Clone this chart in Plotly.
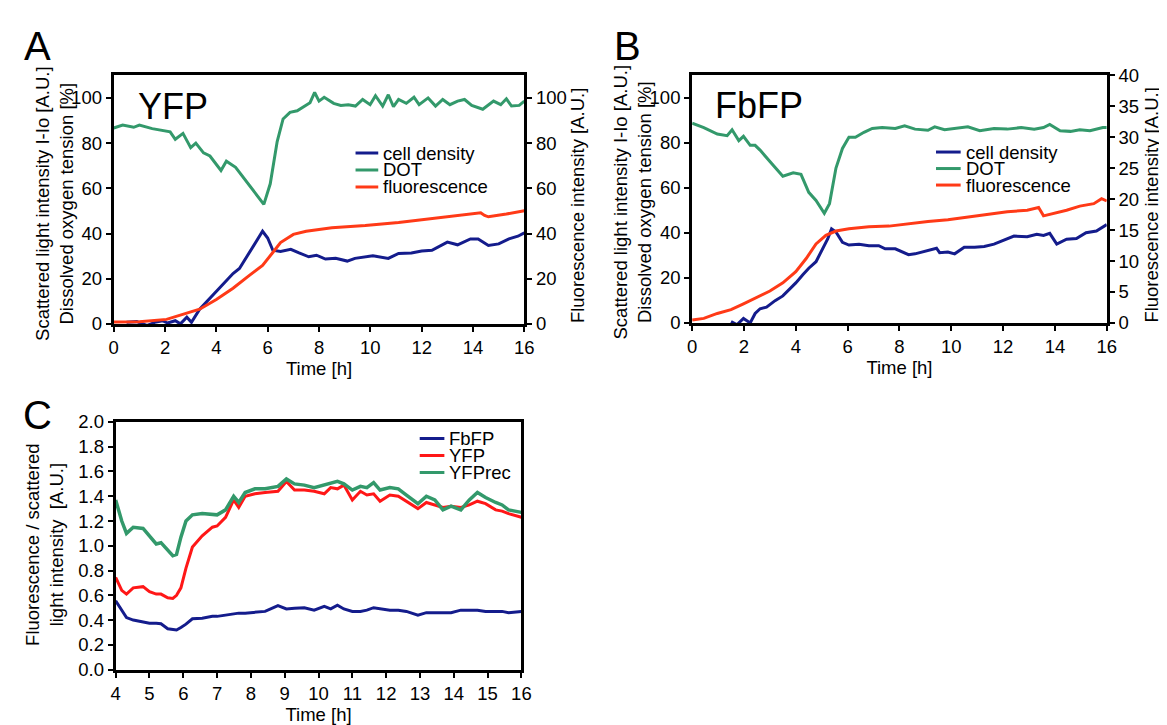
import plotly.graph_objects as go

# ---------------- panel A : YFP ----------------
a_dot_t = [0, 0.35, 0.78, 1.0, 1.5, 1.9, 2.2, 2.4, 2.7, 3.0, 3.2, 3.5, 3.75, 4.18, 4.39, 4.75,
           5.17, 5.6, 5.85, 6.1, 6.37, 6.6, 6.87, 7.15, 7.44, 7.65, 7.83, 8.0, 8.2, 8.57, 8.85,
           9.14, 9.42, 9.7, 9.99, 10.2, 10.48, 10.7, 10.9, 11.1, 11.4, 11.7, 11.9, 12.25, 12.54,
           12.82, 13.1, 13.4, 13.67, 13.95, 14.38, 14.8, 15.08, 15.3, 15.5, 15.8, 16.0]
a_dot = [86.7, 88, 87, 88, 86.4, 85.7, 85, 81.7, 84.3, 78, 80, 75.7, 74.3, 67.9, 72, 69.3,
         63, 57, 52.9, 62, 80.7, 90.7, 93.6, 94.3, 96.4, 97.9, 102.4, 98.6, 100.3, 97.6, 96.7,
         97, 96.4, 99.3, 97, 101, 96.4, 101.4, 96.1, 99.3, 97.6, 100.3, 97, 100, 96.4,
         99.3, 97, 98.6, 99.3, 96.7, 95, 98.6, 97, 99.6, 96.4, 96.7, 98.6]

a_cell_t = [0.5, 0.9, 1.3, 1.6, 1.9, 2.1, 2.4, 2.6, 2.85, 3.03, 3.35, 3.75, 4.3, 4.65, 4.9, 5.3,
            5.55, 5.8, 6.0, 6.2, 6.5, 6.9, 7.2, 7.6, 7.9, 8.25, 8.65, 9.1, 9.4, 10.1, 10.7,
            11.1, 11.6, 12.0, 12.4, 13.0, 13.4, 13.9, 14.2, 14.6, 15.0, 15.4, 15.75, 16.0]
a_cell = [0.7, 1.0, -0.7, 0.7, 1.4, 0.4, 1.4, 0.0, 3.0, 0.7, 6.5, 11.5, 18, 22.3, 24.5, 31.7,
          36, 41, 38, 32.6, 32.1, 33, 31.5, 29.7, 30.4, 28.7, 29, 27.8, 29, 30.2, 29,
          31.2, 31.4, 32.3, 32.6, 36.2, 35, 37.6, 37.6, 34.7, 35.4, 37.6, 38.8, 40.3]

a_fluo_t = [0, 1.0, 2.06, 2.7, 3.35, 4.0, 4.65, 5.3, 5.8, 6.2, 6.5, 7.0, 7.5, 8.5, 9.8, 11.1,
            11.9, 13.0, 14.3, 14.45, 14.6, 15.3, 16.0]
a_fluo = [0.8, 1.0, 2.0, 4.3, 6.5, 10.8, 15.8, 21.6, 25.9, 31.6, 36, 39.6, 41, 42.5, 43.5, 44.9,
          46, 47.4, 49.2, 48.0, 47.4, 48.6, 50.1]

# ---------------- panel B : FbFP ----------------
b_dot_t = [0, 0.45, 0.97, 1.35, 1.54, 1.8, 1.98, 2.24, 2.43, 2.62, 3.0, 3.5, 3.9, 4.2, 4.5, 4.78,
           5.1, 5.3, 5.55, 5.8, 6.05, 6.3, 6.63, 6.95, 7.33, 7.84, 8.2, 8.6, 9.1, 9.36, 9.74,
           10.25, 10.64, 11.1, 11.65, 12.16, 12.7, 13.2, 13.56, 13.8, 14.2, 14.6, 14.96, 15.35,
           15.85, 16.0]
b_dot = [88.7, 86.8, 83.9, 83.2, 85.8, 81, 82.9, 78.9, 78.9, 76.8, 71.7, 65.2, 66.7, 66, 58, 54.4,
         48.7, 53, 68.8, 77.5, 82.5, 82.5, 84.7, 86.4, 86.8, 86.4, 87.6, 86.1, 85.6, 87.1, 85.8,
         86.4, 87.1, 85.4, 86.4, 86.1, 86.8, 86.1, 86.8, 88.2, 85.4, 85.1, 85.8, 85.4,
         86.8, 86.8]

b_cell_t = [1.5, 1.73, 1.98, 2.24, 2.43, 2.62, 2.87, 3.2, 3.5, 3.77, 4.0, 4.27, 4.5, 4.78, 5.03,
            5.23, 5.38, 5.55, 5.8, 6.05, 6.44, 6.82, 7.2, 7.45, 7.84, 8.35, 8.6, 9.0, 9.43, 9.55,
            9.87, 10.13, 10.5, 10.9, 11.27, 11.65, 12.0, 12.42, 12.93, 13.3, 13.56, 13.8, 14.07,
            14.45, 14.83, 15.2, 15.6, 16.0]
b_cell = [0.6, -0.8, 2.0, 0.0, 4.2, 6.3, 7.0, 9.9, 12, 14.9, 17.8, 21.4, 24.3, 27.2, 32.9,
          37.3, 41.8, 40.4, 35.8, 34.6, 35, 34.3, 34.3, 32.9, 32.9, 30.3, 30.7, 31.8, 33.2, 31.2,
          31.5, 30.7, 33.6, 33.6, 34, 35, 36.5, 38.6, 38.3, 39.4, 38.9, 39.8, 35,
          37.2, 37.5, 40.1, 40.8, 43.7]

b_fluo_t = [0, 0.45, 0.97, 1.5, 1.98, 2.62, 3.0, 3.5, 4.0, 4.4, 4.78, 5.16, 5.55, 6.05, 6.82, 7.6,
            8.35, 9.1, 9.87, 10.64, 11.4, 12.16, 12.93, 13.37, 13.56, 13.94, 14.45, 14.96, 15.5,
            15.8, 16.0]
b_fluo = [0.47, 0.73, 1.53, 2.15, 3.09, 4.4, 5.16, 6.47, 8.29, 10.4, 12.76, 14.15, 14.84, 15.2,
          15.53, 15.64, 16.04, 16.4, 16.65, 17.1, 17.6, 17.96, 18.2, 18.65, 17.3, 17.7, 18.2,
          18.87, 19.27, 20.07, 19.7]

# ---------------- panel C : ratio ----------------
c_t = [4.0, 4.18, 4.32, 4.52, 4.81, 5.0, 5.2, 5.34, 5.54, 5.69, 5.8, 5.93, 6.08, 6.27, 6.56, 6.86,
       7.0, 7.25, 7.49, 7.64, 7.83, 8.12, 8.42, 8.8, 9.05, 9.29, 9.58, 9.87, 10.17, 10.36, 10.56,
       10.75, 11.0, 11.24, 11.43, 11.63, 11.82, 12.11, 12.36, 12.6, 12.94, 13.19, 13.44, 13.68,
       13.92, 14.21, 14.46, 14.7, 14.94, 15.24, 15.43, 15.62, 16.0]
c_yfprec = [1.37, 1.20, 1.10, 1.15, 1.14, 1.08, 1.015, 1.025, 0.96, 0.92, 0.93, 1.07, 1.20, 1.25,
            1.26, 1.25, 1.25, 1.29, 1.40, 1.35, 1.43, 1.46, 1.46, 1.48, 1.54, 1.50, 1.49, 1.47,
            1.49, 1.50, 1.52, 1.50, 1.45, 1.48, 1.47, 1.51, 1.45, 1.47, 1.46, 1.41, 1.34, 1.40,
            1.37, 1.29, 1.32, 1.29, 1.37, 1.43, 1.39, 1.35, 1.33, 1.29, 1.27]
c_yfp = [0.745, 0.64, 0.61, 0.66, 0.67, 0.63, 0.61, 0.61, 0.58, 0.575, 0.6, 0.66, 0.82, 0.99,
         1.08, 1.15, 1.16, 1.23, 1.37, 1.31, 1.40, 1.42, 1.43, 1.44, 1.52, 1.45, 1.45, 1.44,
         1.42, 1.47, 1.46, 1.49, 1.37, 1.44, 1.41, 1.42, 1.36, 1.41, 1.40, 1.36, 1.30, 1.35,
         1.33, 1.31, 1.32, 1.31, 1.33, 1.36, 1.34, 1.29, 1.28, 1.26, 1.23]
c_fbfp = [0.555, 0.48, 0.42, 0.40, 0.385, 0.375, 0.375, 0.37, 0.33, 0.325, 0.32, 0.34, 0.367,
          0.41, 0.415, 0.43, 0.43, 0.44, 0.45, 0.456, 0.456, 0.46, 0.47, 0.517, 0.49, 0.495,
          0.50, 0.48, 0.51, 0.49, 0.52, 0.49, 0.47, 0.47, 0.48, 0.50, 0.49, 0.48, 0.48, 0.47,
          0.44, 0.46, 0.46, 0.46, 0.46, 0.48, 0.48, 0.48, 0.47, 0.47, 0.47, 0.46, 0.47]

x_ticks_ab = [0, 2, 4, 6, 8, 10, 12, 14, 16]
y_ticks_ab = [0, 20, 40, 60, 80, 100]
y_ticks_b_right = [0, 5, 10, 15, 20, 25, 30, 35, 40]
x_ticks_c = list(range(4, 17))
y_ticks_c = [0.0, 0.2, 0.4, 0.6, 0.8, 1.0, 1.2, 1.4, 1.6, 1.8, 2.0]

BLUE = "#141c8c"
GREEN = "#33996b"
ORANGE = "#ff3a17"
RED = "#ff1717"
FONT = "Liberation Sans, Arial, sans-serif"
FS = 18.5
W, H = 1167, 725


def px(x):
    return x / W


def py(y):
    return 1 - y / H


fig = go.Figure()

# panel A
fig.add_trace(go.Scatter(x=a_cell_t, y=a_cell, mode="lines", line=dict(color=BLUE, width=3),
                         xaxis="x", yaxis="y", showlegend=False))
fig.add_trace(go.Scatter(x=a_dot_t, y=a_dot, mode="lines", line=dict(color=GREEN, width=3),
                         xaxis="x", yaxis="y", showlegend=False))
fig.add_trace(go.Scatter(x=a_fluo_t, y=a_fluo, mode="lines", line=dict(color=ORANGE, width=3),
                         xaxis="x", yaxis="y2", showlegend=False))
# panel B
fig.add_trace(go.Scatter(x=b_cell_t, y=b_cell, mode="lines", line=dict(color=BLUE, width=3),
                         xaxis="x2", yaxis="y3", showlegend=False))
fig.add_trace(go.Scatter(x=b_dot_t, y=b_dot, mode="lines", line=dict(color=GREEN, width=3),
                         xaxis="x2", yaxis="y3", showlegend=False))
fig.add_trace(go.Scatter(x=b_fluo_t, y=b_fluo, mode="lines", line=dict(color=ORANGE, width=3),
                         xaxis="x2", yaxis="y4", showlegend=False))
# panel C
fig.add_trace(go.Scatter(x=c_t, y=c_fbfp, mode="lines", line=dict(color=BLUE, width=3),
                         xaxis="x3", yaxis="y5", showlegend=False))
fig.add_trace(go.Scatter(x=c_t, y=c_yfp, mode="lines", line=dict(color=RED, width=3),
                         xaxis="x3", yaxis="y5", showlegend=False))
fig.add_trace(go.Scatter(x=c_t, y=c_yfprec, mode="lines", line=dict(color=GREEN, width=3.5),
                         xaxis="x3", yaxis="y5", showlegend=False))

ax = dict(showline=True, linecolor="black", linewidth=3, ticks="outside", ticklen=5,
          tickwidth=2, tickcolor="black", showgrid=False, zeroline=False,
          tickfont=dict(size=FS, color="black", family=FONT))
xtitle = dict(text="Time [h]", font=dict(size=FS, color="black", family=FONT), standoff=3)

dom_a_x = [px(102), px(518)]
dom_a_y = [py(314), py(58)]
dom_b_x = [px(688), px(1108)]
dom_b_y = [py(313), py(58)]
dom_c_x = [px(104), px(515)]
dom_c_y = [py(670), py(415)]

fig.update_layout(
    width=W, height=H, margin=dict(l=0, r=0, t=0, b=0),
    paper_bgcolor="white", plot_bgcolor="white",
    font=dict(family=FONT, color="black"),
    xaxis=dict(ax, domain=dom_a_x, range=[0, 16], tickvals=x_ticks_ab, mirror=True,
               anchor="y", title=xtitle),
    yaxis=dict(ax, domain=dom_a_y, range=[0, 110], tickvals=y_ticks_ab, anchor="x"),
    yaxis2=dict(ax, domain=dom_a_y, range=[0, 110], tickvals=y_ticks_ab, overlaying="y",
                side="right", anchor="x"),
    xaxis2=dict(ax, domain=dom_b_x, range=[0, 16], tickvals=x_ticks_ab, mirror=True,
                anchor="y3", title=xtitle),
    yaxis3=dict(ax, domain=dom_b_y, range=[0, 110], tickvals=y_ticks_ab, anchor="x2"),
    yaxis4=dict(ax, domain=dom_b_y, range=[0, 40], tickvals=y_ticks_b_right, overlaying="y3",
                side="right", anchor="x2"),
    xaxis3=dict(ax, domain=dom_c_x, range=[4, 16], tickvals=x_ticks_c, mirror=True,
                anchor="y5", title=xtitle),
    yaxis5=dict(ax, domain=dom_c_y, range=[0, 2.0], tickvals=y_ticks_c, tickformat=".1f",
                mirror=True, anchor="x3"),
)

ann = []


def text(x, y, s, size, anchor="center", angle=0):
    ann.append(dict(x=px(x), y=py(y), xref="paper", yref="paper", text=s, showarrow=False,
                    xanchor=anchor, yanchor="middle", textangle=angle,
                    font=dict(size=size, color="black", family=FONT)))


text(25, 28, "A", 40)
text(622, 28, "B", 40)
text(25, 408, "C", 40)
text(162, 90, "YFP", 36)
text(756, 89, "FbFP", 36)
text(42, 190, "Scattered light intensity I-Io [A.U.]<br>Dissolved oxygen tension [%]", FS, angle=-90)
text(572, 192, "Fluorescence intensity [A.U.]", FS, angle=-90)
text(628, 188, "Scattered light intensity I-Io [A.U.]<br>Dissolved oxygen tension [%]", FS, angle=-90)
text(1153, 192, "Fluorescence intensity [A.U.]", FS, angle=-90)
text(32, 541, "Fluorescence / scattered<br>light intensity  [A.U.]", FS, angle=-90)

# legends drawn as key lines + labels
shapes = []


def legend(x0, x1, rows, labels, colors):
    for yy, lab, col in zip(rows, labels, colors):
        shapes.append(dict(type="line", xref="paper", yref="paper", x0=px(x0), x1=px(x1),
                           y0=py(yy), y1=py(yy), line=dict(color=col, width=3)))
        text(x1 + 3, yy, lab, FS, anchor="left")


legend(347, 370, [138, 155.5, 173], ["cell density", "DOT", "fluorescence"], [BLUE, GREEN, ORANGE])
legend(935, 960, [137, 154, 171], ["cell density", "DOT", "fluorescence"], [BLUE, GREEN, ORANGE])
legend(412, 437, [432, 449.5, 467], ["FbFP", "YFP", "YFPrec"], [BLUE, RED, GREEN])

fig.update_layout(annotations=ann, shapes=shapes)
fig.write_html("out.html")
